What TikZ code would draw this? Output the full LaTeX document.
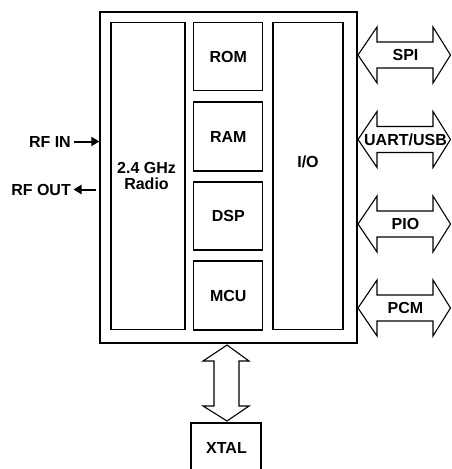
\documentclass[tikz,border=0pt]{standalone}
\usepackage{fontspec}
\setmainfont{Liberation Sans}
\usetikzlibrary{arrows.meta}
\begin{document}
\begin{tikzpicture}[x=1pt,y=-1pt,
  lbl/.style={font=\fontsize{16}{16.5}\selectfont\bfseries},
  blk/.style={draw, line width=1.2pt, inner sep=0pt, lbl},
  dbl/.style={draw, line width=1.1pt, fill=white, line join=miter},
  sig/.style={line width=2pt, -{Triangle[length=8pt,width=9pt]}}]
\clip (0,0) rectangle (451,469);
\fill[white] (0,0) rectangle (451,469);
% outer chip
\node[draw, line width=1.3pt, minimum width=257pt, minimum height=331pt, inner sep=0pt] (chip) at (228.5,177.5) {};
\node[blk, minimum width=74pt, minimum height=307pt, align=center] (radio) at (148,176.3) {};
\node[lbl, align=center] (radiotxt) at (146.5,176) {2.4 GHz\\Radio};
\node[blk, minimum width=69pt, minimum height=68pt, text depth=0pt] (rom) at (228.3,56.8) {ROM};
\node[blk, minimum width=69pt, minimum height=69pt, text depth=0pt] (ram) at (228.3,136.5) {RAM};
\node[blk, minimum width=69pt, minimum height=68pt, text depth=0pt] (dsp) at (228.3,216) {DSP};
\node[blk, minimum width=69pt, minimum height=69pt, text depth=0pt] (mcu) at (228.3,295.5) {MCU};
\node[blk, minimum width=70pt, minimum height=307pt] (io) at (308,176.3) {};
\node[lbl, text depth=0pt] (iotxt) at (308,161.5) {I/O};
\node[blk, minimum width=70pt, minimum height=74pt] (xtal) at (226,460) {};
\node[lbl, text depth=0pt] (xtaltxt) at (226.5,447.5) {XTAL};
% RF signals
\node[lbl, anchor=east, inner sep=0pt, text depth=0pt] (rfin) at (71,141.5) {RF IN};
\node[lbl, anchor=east, inner sep=0pt, text depth=0pt] (rfout) at (71,189.5) {RF OUT};
\coordinate (rfinstart) at (74,141.5);
\coordinate (rfinend) at (chip.west |- rfinstart);
\coordinate (rfoutstart) at (96,189.5);
\coordinate (rfoutend) at (73.5,189.5);
\draw[sig] (rfinstart) -- (rfinend);
\draw[sig] (rfoutstart) -- (rfoutend);
% right double arrows
\foreach \c/\t/\n in {55/{SPI}/spi,139.5/{UART/USB}/uart,224/{PIO}/pio,308/{PCM}/pcm}{
  \draw[dbl] (358,\c) -- (377,\c-28) -- (377,\c-13) -- (433,\c-13) -- (433,\c-28)
    -- (450.5,\c) -- (433,\c+28) -- (433,\c+13) -- (377,\c+13) -- (377,\c+28) -- cycle;
  \node[lbl, inner sep=0pt, text depth=0pt] (\n) at (405.5,\c) {\t};
}
% bottom double arrow between chip and xtal
\draw[dbl] (227,345) -- (249,361) -- (239,361) -- (239,406) -- (249,406) -- (227,421)
  -- (203,406) -- (214,406) -- (214,361) -- (203,361) -- cycle;
\end{tikzpicture}
\end{document}
